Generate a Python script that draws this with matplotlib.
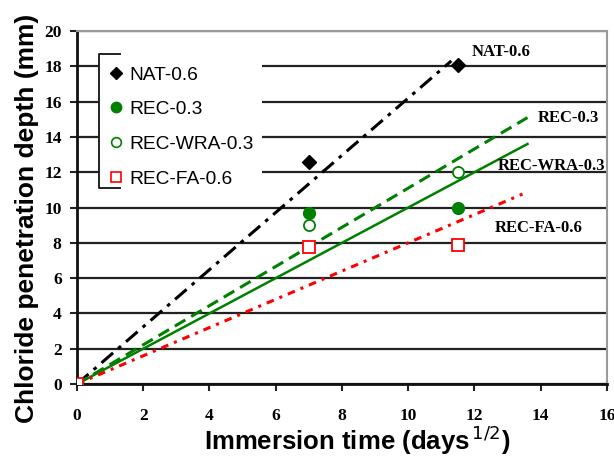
import matplotlib
matplotlib.use("Agg")
import matplotlib.pyplot as plt
from matplotlib.lines import Line2D

# Measured chloride penetration depth (mm) vs sqrt(days)
time_sqrt = [0, 7, 11.5]
series = ["NAT-0.6", "REC-0.3", "REC-WRA-0.3", "REC-FA-0.6"]
depth_nat = [0, 12.6, 18.1]
depth_rec = [0, 9.7, 10.0]
depth_wra = [0, 9.0, 12.0]
depth_fa = [0, 7.75, 7.9]

# Linear trend lines through the origin: slope and end point on x
trend_slope = [1.62, 1.11, 1.0, 0.80]
trend_end = [11.3, 13.6, 13.6, 13.45]

# Label anchors for the trend lines (x, y)
label_pos = [(11.9, 18.8), (13.9, 15.05), (12.7, 12.35), (12.6, 8.85)]

fig = plt.figure(figsize=(6.14, 4.62), dpi=100)
ax = fig.add_axes([0.1254, 0.1688, 0.8632, 0.7641])

green = "#008000"
red = "#ff0000"

# trend lines
styles = [
    dict(color="black", lw=2.2, dashes=(5, 2.2, 1.2, 2.2)),
    dict(color=green, lw=2.2, dashes=(4, 2.2)),
    dict(color=green, lw=1.8, linestyle="-"),
    dict(color=red, lw=2.2, dashes=(2.5, 2, 1, 2)),
]
for slope, xend, st in zip(trend_slope, trend_end, styles):
    ax.plot([0, xend], [0, slope * xend], zorder=3, **st)

# data markers
ax.plot(time_sqrt, depth_nat, linestyle="none", marker="D", ms=7.5,
        color="black", zorder=4)
ax.plot(time_sqrt, depth_rec, linestyle="none", marker="o", ms=8.5,
        color=green, zorder=4)
ax.plot(time_sqrt, depth_wra, linestyle="none", marker="o", ms=8,
        mfc="white", mec=green, mew=1.3, zorder=4)
ax.plot(time_sqrt, depth_fa, linestyle="none", marker="s", ms=8.5,
        mfc="white", mec=red, mew=1.3, zorder=5)

for name, (lx, ly) in zip(series, label_pos):
    ax.text(lx, ly, name, fontsize=12, fontweight="bold",
            family="Liberation Serif", va="center", ha="left", zorder=6)

ax.set_xlim(0, 16)
ax.set_ylim(0, 20)
ax.set_xticks(range(0, 17, 2))
ax.set_yticks(range(0, 21, 2))
ax.yaxis.grid(True, color="#222222", lw=1.6)
ax.set_axisbelow(True)

for lab in ax.get_xticklabels() + ax.get_yticklabels():
    lab.set_family("Liberation Serif")
    lab.set_fontweight("bold")
    lab.set_fontsize(12.5)
ax.tick_params(axis="both", direction="out", length=5, width=1.5, color="#222222")
ax.tick_params(axis="x", pad=12)
ax.tick_params(axis="y", pad=6)

ax.spines["left"].set_linewidth(2)
ax.spines["bottom"].set_linewidth(2)
ax.spines["left"].set_color("#111111")
ax.spines["bottom"].set_color("#111111")
for side in ("top", "right"):
    ax.spines[side].set_color("#9a9a9a")
    ax.spines[side].set_linewidth(1.5)

ax.set_xlabel("Immersion time (days$^{\\,1/2}$)", fontsize=18.5, fontweight="bold",
              family="Liberation Sans", va="center")
ax.xaxis.set_label_coords(0.528, -0.16)
ax.set_ylabel("Chloride penetration depth (mm)", fontsize=19, fontweight="bold",
              family="Liberation Sans", va="center")
ax.yaxis.set_label_coords(-0.094, 0.47)

# legend
handles = [
    Line2D([], [], linestyle="none", marker="D", ms=6, color="black"),
    Line2D([], [], linestyle="none", marker="o", ms=7.5, color=green),
    Line2D([], [], linestyle="none", marker="o", ms=7, mfc="white", mec=green, mew=1.2),
    Line2D([], [], linestyle="none", marker="s", ms=7.5, mfc="white", mec=red, mew=1.2),
]
leg = ax.legend(handles, series, loc="upper left", bbox_to_anchor=(0.043, 0.925),
                borderaxespad=0, frameon=True, fancybox=False, framealpha=1,
                facecolor="white", edgecolor="none", handlelength=0.8,
                handletextpad=0.3, labelspacing=0.9, borderpad=0.45,
                prop={"family": "Liberation Sans", "size": 13.8})
leg.set_zorder(7)

# bracket on the left side of the legend box
bx0, bx1 = 0.0415, 0.081
by0, by1 = 0.555, 0.935
ax.plot([bx1, bx0, bx0, bx1], [by1, by1, by0, by0], color="#222222", lw=1.4,
        transform=ax.transAxes, clip_on=False, zorder=8)

fig.savefig("out.png", dpi=100)
